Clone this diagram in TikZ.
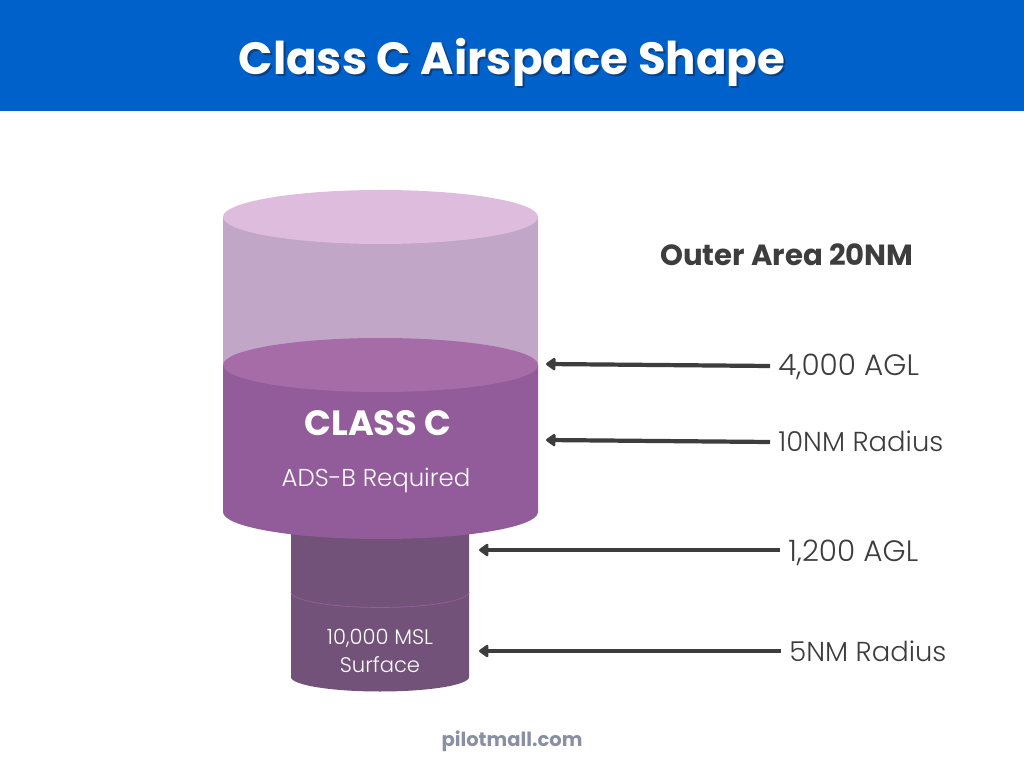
\documentclass[tikz,border=0pt]{standalone}
\usepackage{fontspec}
\usepackage{xcolor}
\usetikzlibrary{positioning,arrows.meta}
\setmainfont{Poppins}
\newfontfamily\thinfont{Poppins Light}
\definecolor{bannerblue}{HTML}{0061CB}
\definecolor{titleshade}{HTML}{0B3F7F}
\definecolor{upperside}{HTML}{C1A6C7}
\definecolor{uppertop}{HTML}{DDBCDD}
\definecolor{midside}{HTML}{925C9B}
\definecolor{midtop}{HTML}{A56CA8}
\definecolor{lowside}{HTML}{73527A}
\definecolor{lowline}{HTML}{935F99}
\definecolor{inkgrey}{HTML}{3D3D3D}
\definecolor{footgrey}{HTML}{8A90A3}
\tikzset{
  altlabel/.style={inner sep=0pt, color=inkgrey, font=\thinfont\fontsize{16.8}{20}\selectfont},
  radlabel/.style={inner sep=0pt, color=inkgrey, font=\thinfont\fontsize{15.6}{19}\selectfont},
  pointer/.style={draw=inkgrey, line width=2.4pt, -{Triangle[length=6pt,width=8pt,round]}},
}

\begin{document}
\begin{tikzpicture}[x=0.02cm,y=0.02cm]
  \useasboundingbox (0,0) rectangle (1024,768);
  \fill[white] (0,0) rectangle (1024,768);
  \fill[bannerblue] (0,657) rectangle (1024,768);
  \node[color=titleshade, font=\bfseries\fontsize{25.7}{30}\selectfont] (titleback) at (514,704) {Class C Airspace Shape};
  \node[color=white, font=\bfseries\fontsize{25.7}{30}\selectfont] (title) at (512,706) {Class C Airspace Shape};

  % upper cylinder
  \fill[upperside] (223,551) -- (223,403) -- (538,403) -- (538,551) -- cycle;
  \fill[uppertop] (380.5,551) ellipse (157.5 and 27);

  % small cylinder
  \fill[lowside] (291,240) -- (291,91) arc[start angle=180, end angle=360, x radius=89, y radius=14.5] -- (469,240) -- cycle;
  \draw[lowline, line width=0.4pt] (291,176) arc[start angle=180, end angle=360, x radius=89, y radius=15.5];

  % middle cylinder
  \fill[midside] (223,403) -- (223,256) arc[start angle=180, end angle=360, x radius=157.5, y radius=27] -- (538,403) -- cycle;
  \fill[midtop] (380.5,403) ellipse (157.5 and 27);

  \node[color=white, font=\bfseries\fontsize{20}{24}\selectfont] (classc) at (378,345) {CLASS C};
  \node[color=white, font=\thinfont\fontsize{13.9}{16}\selectfont] (adsb) at (376,288) {ADS-B Required};
  \node[color=white, align=center, font=\thinfont\fontsize{12}{15.5}\selectfont] (surface) at (380,117) {10,000 MSL\\Surface};

  \node[color=inkgrey, font=\bfseries\fontsize{16.6}{20}\selectfont] (outer) at (787,513) {Outer Area 20NM};

  \node[altlabel, anchor=west] (agl4) at (778,401) {4,000 AGL};
  \node[radlabel, anchor=west] (rad10) at (778,327) {10NM Radius};
  \node[altlabel, anchor=west] (agl1) at (788,215) {1,200 AGL};
  \node[radlabel, anchor=west] (rad5) at (789,117) {5NM Radius};

  \coordinate (tip4) at (546,404);
  \coordinate (tip10) at (546,328);
  \coordinate (tip1) at (479,218);
  \coordinate (tip5) at (479,117);
  \coordinate (tail4) at (770,402);
  \coordinate (tail10) at (770,326);

  \draw[pointer] (tail4) -- (tip4);
  \draw[pointer] (tail10) -- (tip10);
  \draw[pointer] (agl1.west) ++(-8,3) -- (tip1);
  \draw[pointer] (rad5.west) ++(-8,0) -- (tip5);

  \node[color=footgrey, font=\bfseries\fontsize{11.1}{14}\selectfont] (site) at (512,27) {pilotmall.com};
\end{tikzpicture}
\end{document}
